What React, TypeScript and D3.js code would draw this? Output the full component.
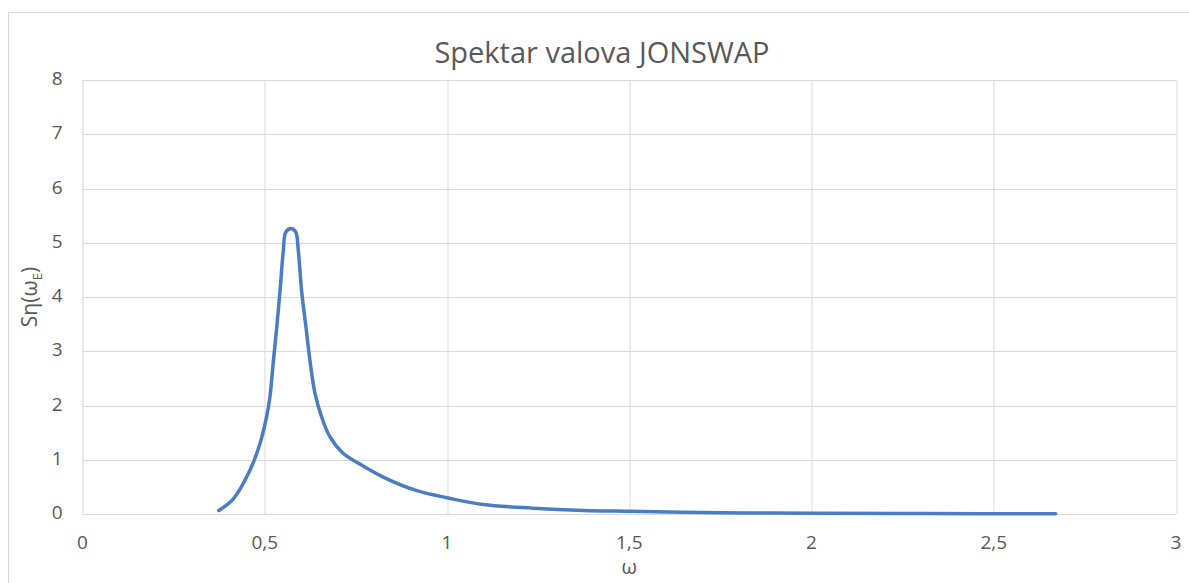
import { useEffect, useRef } from "react";
import * as d3 from "d3";

// JONSWAP spectrum values
const omega = [
  0.374, 0.414, 0.459, 0.487, 0.505, 0.514, 0.523, 0.533, 0.542, 0.551, 0.558,
  0.574, 0.585, 0.592, 0.601, 0.613, 0.624, 0.638, 0.656, 0.679, 0.715, 0.761,
  0.825, 0.917, 1.0, 1.099, 1.236, 1.374, 1.497, 1.648, 1.83, 2.0, 2.3, 2.67,
];
const spectrum = [
  0.065, 0.28, 0.8, 1.3, 1.79, 2.15, 2.77, 3.45, 4.12, 4.86, 5.2, 5.26, 5.2,
  4.86, 4.12, 3.45, 2.83, 2.22, 1.79, 1.42, 1.12, 0.92, 0.68, 0.43, 0.3,
  0.175, 0.107, 0.065, 0.05, 0.033, 0.02, 0.012, 0.007, 0.004,
];
const xTicks = [0, 0.5, 1, 1.5, 2, 2.5, 3];
const yTicks = [0, 1, 2, 3, 4, 5, 6, 7, 8];

const W = 1189;
const H = 583;
const FONT = "'Open Sans', sans-serif";
const TEXT = "#595959";
const GRID = "#d9d9d9";
const LINE = "#4a7dc1";

export default function App() {
  const svgRef = useRef<SVGSVGElement>(null);

  useEffect(() => {
    if (!svgRef.current) return;
    const margin = { top: 80, right: 13, bottom: 69, left: 82.5 };
    const innerW = W - margin.left - margin.right;
    const innerH = H - margin.top - margin.bottom;

    const svg = d3.select(svgRef.current);
    svg.selectAll("*").remove();

    // chart area border
    svg
      .append("rect")
      .attr("x", 8.5)
      .attr("y", 12.5)
      .attr("width", W)
      .attr("height", H)
      .attr("fill", "white")
      .attr("stroke", GRID);

    const g = svg
      .append("g")
      .attr("transform", `translate(${margin.left},${margin.top})`);

    const x = d3.scaleLinear().domain([0, 3]).range([0, innerW]);
    const y = d3.scaleLinear().domain([0, 8]).range([innerH, 0]);

    // grid
    g.append("g")
      .selectAll("line")
      .data(yTicks)
      .join("line")
      .attr("x1", 0)
      .attr("x2", innerW)
      .attr("y1", (d) => Math.round(y(d)) + 0.5)
      .attr("y2", (d) => Math.round(y(d)) + 0.5)
      .attr("stroke", GRID);
    g.append("g")
      .selectAll("line")
      .data(xTicks)
      .join("line")
      .attr("x1", (d) => Math.round(x(d)) + 0.5)
      .attr("x2", (d) => Math.round(x(d)) + 0.5)
      .attr("y1", 0)
      .attr("y2", innerH)
      .attr("stroke", GRID);

    const fmt = (d: number) => String(d).replace(".", ",");

    // tick labels
    g.append("g")
      .selectAll("text")
      .data(xTicks)
      .join("text")
      .attr("x", (d) => x(d))
      .attr("y", innerH + 30)
      .attr("text-anchor", "middle")
      .attr("dominant-baseline", "middle")
      .attr("fill", TEXT)
      .attr("font-family", FONT)
      .attr("font-size", "19px")
      .text(fmt);
    g.append("g")
      .selectAll("text")
      .data(yTicks)
      .join("text")
      .attr("x", -20)
      .attr("y", (d) => y(d))
      .attr("text-anchor", "end")
      .attr("dominant-baseline", "middle")
      .attr("fill", TEXT)
      .attr("font-family", FONT)
      .attr("font-size", "19px")
      .text(fmt);

    // series
    const pts = omega.map((w, i) => [w, spectrum[i]] as [number, number]);
    g.append("path")
      .datum(pts)
      .attr("fill", "none")
      .attr("stroke", LINE)
      .attr("stroke-width", 3.5)
      .attr("stroke-linecap", "round")
      .attr("stroke-linejoin", "round")
      .attr(
        "d",
        d3
          .line<[number, number]>()
          .x((d) => x(d[0]))
          .y((d) => y(d[1]))
          .curve(d3.curveCatmullRom.alpha(0.5))
      );

    // title
    svg
      .append("text")
      .attr("x", 602)
      .attr("y", 55)
      .attr("text-anchor", "middle")
      .attr("dominant-baseline", "middle")
      .attr("fill", TEXT)
      .attr("font-family", FONT)
      .attr("font-size", "29px")
      .text("Spektar valova JONSWAP");

    // axis titles
    const yl = svg
      .append("text")
      .attr("transform", `translate(37,${margin.top + innerH / 2}) rotate(-90)`)
      .attr("text-anchor", "middle")
      .attr("fill", TEXT)
      .attr("font-family", FONT)
      .attr("font-size", "21px");
    yl.append("tspan").text("Sη(ω");
    yl.append("tspan").attr("font-size", "13px").attr("dy", 5).text("E");
    yl.append("tspan").attr("dy", -5).text(")");

    svg
      .append("text")
      .attr("x", margin.left + innerW / 2)
      .attr("y", 569)
      .attr("text-anchor", "middle")
      .attr("dominant-baseline", "middle")
      .attr("fill", TEXT)
      .attr("font-family", FONT)
      .attr("font-size", "20px")
      .text("ω");
  }, []);

  return (
    <svg
      ref={svgRef}
      width={W}
      height={H}
      style={{ position: "absolute", left: 0, top: 0, display: "block" }}
    />
  );
}
